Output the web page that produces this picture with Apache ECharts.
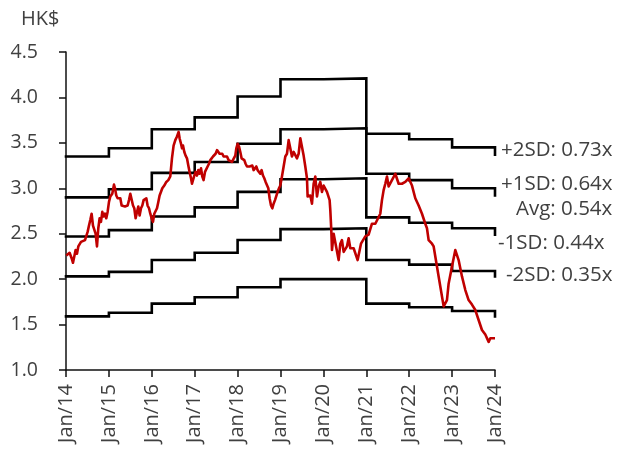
<!DOCTYPE html>
<html>
<head>
<meta charset="utf-8">
<script src="https://cdn.jsdelivr.net/npm/echarts@6/dist/echarts.min.js"></script>
<style>
html,body{margin:0;padding:0;background:#fff;}
#chart{width:619px;height:455px;}
</style>
</head>
<body>
<div id="chart"></div>
<script>
// ---- data ----
const bandYears = [2014, 2015, 2016, 2017, 2018, 2019, 2020, 2021, 2022, 2023, 2024];
const plus2SD  = [3.35, 3.44, 3.65, 3.78, 4.01, 4.20, 4.21, 3.60, 3.54, 3.45, 3.37];
const plus1SD  = [2.90, 2.99, 3.17, 3.29, 3.49, 3.65, 3.66, 3.16, 3.09, 3.00, 2.92];
const average  = [2.47, 2.54, 2.69, 2.79, 2.96, 3.10, 3.11, 2.68, 2.62, 2.56, 2.49];
const minus1SD = [2.03, 2.08, 2.21, 2.29, 2.43, 2.55, 2.56, 2.21, 2.16, 2.09, 2.03];
const minus2SD = [1.59, 1.63, 1.73, 1.80, 1.91, 2.00, 2.00, 1.73, 1.69, 1.65, 1.59];
const bandLabels = ['+2SD: 0.73x', '+1SD: 0.64x', 'Avg: 0.54x', '-1SD: 0.44x', '-2SD: 0.35x'];

const priceDates = [
 2014.007,2014.084,2014.131,2014.163,2014.224,2014.256,2014.287,2014.350,2014.396,2014.443,
 2014.504,2014.536,2014.566,2014.597,2014.629,2014.660,2014.690,2014.722,2014.753,2014.784,
 2014.815,2014.846,2014.877,2014.908,2014.939,2014.970,2015.002,2015.033,2015.079,2015.118,
 2015.142,2015.172,2015.203,2015.235,2015.266,2015.297,2015.343,2015.375,2015.406,2015.437,
 2015.468,2015.499,2015.530,2015.562,2015.592,2015.623,2015.655,2015.685,2015.716,2015.748,
 2015.779,2015.809,2015.841,2015.872,2015.902,2015.935,2015.965,2015.995,2016.028,2016.058,
 2016.089,2016.121,2016.152,2016.182,2016.245,2016.291,2016.338,2016.385,2016.431,
 2016.470,2016.508,2016.548,2016.587,2016.625,2016.648,2016.681,2016.704,2016.727,2016.758,
 2016.788,2016.820,2016.851,2016.881,2016.914,2016.937,2016.960,2016.991,2017.021,2017.054,
 2017.084,2017.114,2017.147,2017.177,2017.207,2017.240,2017.270,2017.301,2017.333,2017.364,
 2017.394,2017.427,2017.457,2017.487,2017.520,2017.550,2017.580,2017.613,2017.643,2017.674,
 2017.713,2017.753,2017.790,2017.830,2017.869,2017.907,2017.946,2017.970,2018.000,2018.033,
 2018.063,2018.093,2018.126,2018.156,2018.186,2018.219,2018.249,2018.280,2018.312,2018.343,
 2018.373,2018.406,2018.436,2018.466,2018.499,2018.529,2018.559,2018.592,2018.622,2018.653,
 2018.685,2018.716,2018.746,2018.779,2018.809,2018.839,2018.872,2018.902,2018.932,2018.965,
 2018.995,2019.034,2019.073,2019.112,2019.151,
 2019.190,2019.228,2019.267,2019.306,2019.384,2019.423,2019.462,2019.501,2019.539,2019.578,
 2019.617,2019.632,2019.695,2019.734,2019.772,2019.811,2019.850,2019.889,2019.928,2019.967,
 2020.005,2020.083,2020.145,2020.161,2020.184,2020.200,2020.239,2020.277,2020.355,2020.394,
 2020.433,2020.472,2020.549,2020.588,2020.627,2020.705,2020.798,2020.876,2020.977,2021.054,
 2021.132,2021.210,2021.249,2021.326,2021.365,2021.404,2021.443,2021.482,2021.521,2021.598,
 2021.676,2021.754,2021.831,2021.909,2021.987,2022.065,2022.142,2022.220,2022.298,2022.375,
 2022.414,2022.453,2022.531,2022.570,2022.647,2022.725,2022.803,2022.841,2022.880,2022.919,
 2022.997,2023.075,2023.113,2023.152,2023.230,2023.308,2023.385,2023.463,2023.541,2023.618,
 2023.696,2023.774,2023.852,2023.891,2023.929,2024.000
];
const priceValues = [
 2.26,2.29,2.23,2.18,2.32,2.28,2.36,2.41,2.41,2.43,
 2.52,2.59,2.65,2.72,2.59,2.61,2.50,2.36,2.56,2.67,
 2.63,2.74,2.69,2.72,2.67,2.74,2.85,2.91,2.94,3.04,
 3.00,2.92,2.89,2.87,2.89,2.81,2.83,2.80,2.78,2.81,
 2.87,2.94,2.92,2.81,2.78,2.67,2.74,2.80,2.70,2.78,
 2.81,2.87,2.85,2.89,2.81,2.78,2.72,2.67,2.63,2.72,
 2.70,2.78,2.85,2.92,3.00,3.03,3.07,3.09,3.13,
 3.33,3.47,3.53,3.57,3.62,3.55,3.49,3.44,3.47,3.40,
 3.36,3.33,3.25,3.18,3.11,3.05,3.09,3.14,3.18,3.14,
 3.20,3.16,3.22,3.13,3.09,3.18,3.20,3.24,3.27,3.31,
 3.33,3.35,3.36,3.38,3.42,3.40,3.38,3.36,3.38,3.35,
 3.33,3.35,3.31,3.29,3.29,3.31,3.36,3.44,3.49,3.46,
 3.40,3.33,3.35,3.31,3.27,3.24,3.22,3.24,3.22,3.25,
 3.20,3.22,3.24,3.20,3.18,3.16,3.20,3.14,3.11,3.07,
 3.05,3.00,2.89,2.81,2.78,2.83,2.87,2.89,2.96,3.00,
 3.03,3.13,3.24,3.35,3.38,
 3.53,3.44,3.35,3.40,3.33,3.38,3.55,3.57,3.36,3.24,
 3.11,2.91,2.92,2.83,3.05,3.13,2.91,3.02,3.07,2.96,
 3.03,2.96,2.87,2.76,2.54,2.32,2.50,2.49,2.21,2.39,
 2.43,2.30,2.36,2.45,2.34,2.34,2.21,2.39,2.47,2.49,
 2.61,2.61,2.61,2.72,2.87,2.98,3.05,3.13,3.02,3.09,
 3.16,3.05,3.05,3.07,3.11,3.03,2.89,2.81,2.72,2.61,
 2.56,2.43,2.39,2.36,2.14,1.92,1.70,1.70,1.77,1.95,
 2.14,2.32,2.34,2.21,2.03,1.88,1.77,1.72,1.66,1.55,
 1.44,1.39,1.31,1.35,1.33,1.35
];
const yTicks = {min: 1, max: 4.5, interval: 0.5};
const xTicks = {min: 2014, max: 2024, interval: 1};

// ---- chart ----
const FONT = '"Open Sans", "DejaVu Sans", sans-serif';
const TXT = '#404040';
const chart = echarts.init(document.getElementById('chart'), null, {renderer: 'canvas'});

function bandSeries(vals) {
  return {
    type: 'line', step: 'end', symbol: 'none', silent: true,
    data: bandYears.map((y, i) => [y, vals[i]]),
    lineStyle: {color: '#000', width: 2.6, cap: 'square', join: 'miter'},
    z: 2
  };
}

const labelPos = [
  {x: 501, y: 150}, {x: 501, y: 184}, {x: 516, y: 209}, {x: 498, y: 243}, {x: 506, y: 275}
];

chart.setOption({
  animation: false,
  backgroundColor: '#fff',
  grid: {left: 66, top: 52, right: 124, bottom: 85, containLabel: false},
  title: {text: 'HK$', left: 16, top: 4, textStyle: {fontFamily: FONT, fontSize: 20, fontWeight: 'normal', color: TXT}},
  xAxis: {
    type: 'value', min: xTicks.min, max: xTicks.max, interval: xTicks.interval,
    axisLine: {show: true, onZero: false, lineStyle: {color: '#111', width: 1.5}},
    axisTick: {show: true, inside: false, length: 7, lineStyle: {color: '#111', width: 1.5}},
    splitLine: {show: false},
    axisLabel: {
      rotate: 90, margin: 14, fontFamily: FONT, fontSize: 20, color: TXT,
      formatter: v => 'Jan/' + String(Math.round(v)).slice(2)
    }
  },
  yAxis: {
    type: 'value', min: yTicks.min, max: yTicks.max, interval: yTicks.interval,
    axisLine: {show: true, lineStyle: {color: '#111', width: 1.5}},
    axisTick: {show: true, inside: false, length: 7, lineStyle: {color: '#111', width: 1.5}},
    splitLine: {show: false},
    axisLabel: {margin: 28, fontFamily: FONT, fontSize: 19.5, color: TXT, formatter: v => v.toFixed(1)}
  },
  graphic: bandLabels.map((t, i) => ({
    type: 'text', x: labelPos[i].x, y: labelPos[i].y, silent: true,
    style: {text: t, fontFamily: FONT, fontSize: 20.5, fill: TXT, verticalAlign: 'middle', align: 'left'}
  })),
  series: [
    bandSeries(plus2SD), bandSeries(plus1SD), bandSeries(average), bandSeries(minus1SD), bandSeries(minus2SD),
    {
      type: 'line', symbol: 'none', silent: true,
      data: priceDates.map((d, i) => [d, priceValues[i]]),
      lineStyle: {color: '#C00000', width: 2.6, join: 'round'},
      z: 3
    }
  ]
});
</script>
</body>
</html>
